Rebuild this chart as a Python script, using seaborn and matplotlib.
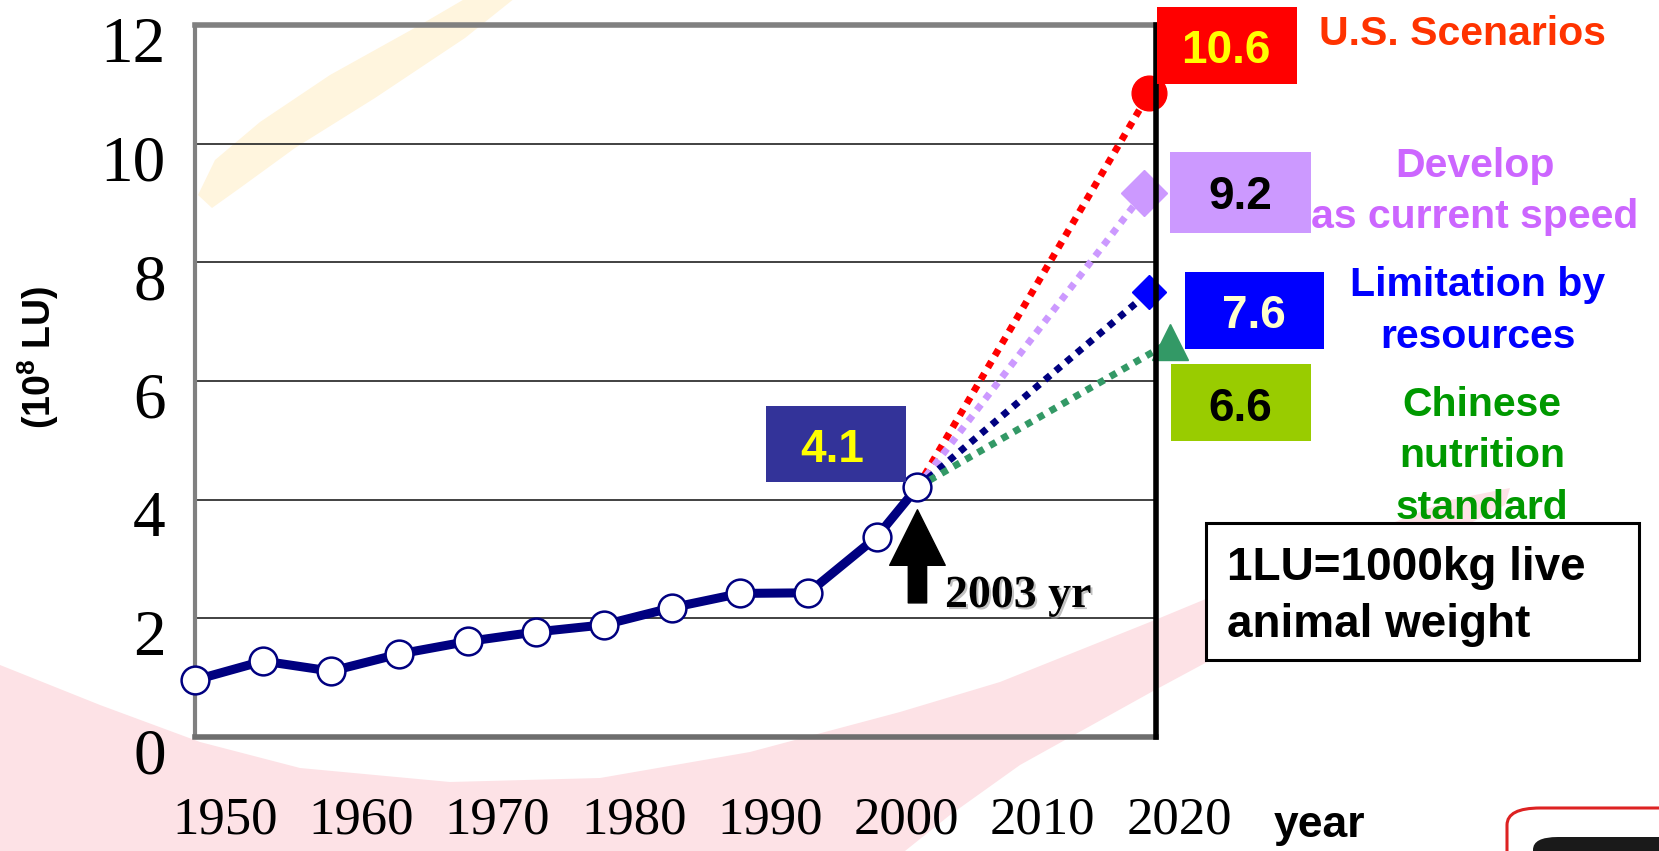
import matplotlib
matplotlib.use('Agg')
import matplotlib.pyplot as plt
import matplotlib.patches as mpatches
import matplotlib.patheffects as pe
from matplotlib.transforms import ScaledTranslation
import seaborn as sns
import pandas as pd

# livestock in China, 10^8 LU
years = [1950, 1955, 1960, 1965, 1970, 1975, 1980, 1985, 1990, 1995, 2000, 2003]
livestock = [0.96, 1.28, 1.11, 1.40, 1.61, 1.77, 1.89, 2.18, 2.42, 2.43, 3.37, 4.21]
current_label = '4.1'

# 2020 scenarios
scenario_names = ['U.S. Scenarios', 'Develop\nas current speed',
                  'Limitation by\nresources', 'Chinese\nnutrition\nstandard']
scenario_years = [2020, 2019.6, 2020, 2021.5]
scenario_values = [10.85, 9.17, 7.5, 6.65]
scenario_labels = ['10.6', '9.2', '7.6', '6.6']

decades = [1950, 1960, 1970, 1980, 1990, 2000, 2010, 2020]
yticks = [0, 2, 4, 6, 8, 10, 12]

# styles
line_col = ['#FF0000', '#CC99FF', '#000080', '#339966']
mark_col = ['#FF0000', '#CC99FF', '#0000FF', '#339966']
markers = ['o', 'D', 'D', '^']
msizes = [25, 23, 17, 26]
box_col = ['#FF0000', '#CC99FF', '#0000FF', '#99CC00']
num_col = ['#FFFF00', '#000000', '#FFFFCC', '#000000']
name_col = ['#FF3300', '#CC66FF', '#0000FF', '#009900']

W, H = 1659, 851

sns.set_style('white')
plt.rcParams['font.family'] = ['Liberation Sans', 'DejaVu Sans']
plt.rcParams['mathtext.fontset'] = 'custom'
plt.rcParams['mathtext.rm'] = 'Liberation Sans'
plt.rcParams['mathtext.bf'] = 'Liberation Sans:bold'

fig = plt.figure(figsize=(W / 100, H / 100), dpi=100)
fig.patch.set_facecolor('white')


def fx(x):
    return x / W


def fy(y):
    return 1 - y / H


def pts(lst):
    return [(fx(a), fy(b)) for a, b in lst]


# faint background swooshes
pink = [(0, 665), (100, 705), (200, 742), (300, 768), (450, 782), (600, 778),
        (750, 752), (900, 712), (1000, 682), (1155, 620), (1300, 560),
        (1450, 500), (1510, 488), (1505, 505), (1400, 560), (1300, 612),
        (1155, 690), (1020, 765), (950, 815), (905, 851), (0, 851)]
fig.add_artist(mpatches.Polygon(pts(pink), closed=True, transform=fig.transFigure,
                                fc='#FDE2E6', ec='none', zorder=-5))
yellow = [(198, 195), (215, 160), (260, 122), (330, 75), (420, 25), (480, -10),
          (525, -10), (465, 38), (375, 98), (295, 148), (240, 188), (212, 208)]
fig.add_artist(mpatches.Polygon(pts(yellow), closed=True, transform=fig.transFigure,
                                fc='#FFF5DE', ec='none', zorder=-5))

ax = fig.add_axes([fx(195), fy(737), (1156 - 195) / W, (737 - 25) / H])
ax.patch.set_alpha(0)

df = pd.DataFrame({'year': years, 'lu': livestock})
sns.lineplot(data=df, x='year', y='lu', ax=ax, color='#000080', lw=6.5,
             marker='o', ms=20, mfc='white', mec='#000080', mew=1.8,
             zorder=6, clip_on=False)

for i in range(len(scenario_values)):
    ax.plot([years[-1], scenario_years[i]], [livestock[-1], scenario_values[i]],
            color=line_col[i], lw=5, ls=(0, (1, 1)), zorder=4, clip_on=False)
    ax.plot([scenario_years[i]], [scenario_values[i]], marker=markers[i],
            ms=msizes[i], color=mark_col[i], mec=mark_col[i], ls='none',
            zorder=7, clip_on=False)

ax.set_xlim(1950, 2020.5)
ax.set_ylim(0, 12)
ax.set_xlabel('')
ax.set_ylabel('')
ax.set_xticks(decades)
ax.set_xticklabels([str(d) for d in decades])
ax.set_yticks(yticks)
ax.set_yticklabels([str(v) for v in yticks])
ax.tick_params(axis='x', direction='in', length=11, width=1, color='black',
               pad=43, labelsize=38, labelcolor='black',
               labelfontfamily='Liberation Serif')
ax.tick_params(axis='y', direction='in', length=14, width=1.5, color='black',
               pad=21, labelsize=47, labelcolor='black',
               labelfontfamily='Liberation Serif')
for lab in ax.get_xticklabels():
    lab.set_transform(lab.get_transform() + ScaledTranslation(0.30, 0, fig.dpi_scale_trans))
for lab in ax.get_yticklabels():
    lab.set_transform(lab.get_transform() + ScaledTranslation(0, -0.14, fig.dpi_scale_trans))

ax.grid(axis='y', color='#333333', lw=1.3)
ax.grid(axis='x', visible=False)
ax.set_axisbelow(True)
for side in ['left', 'top', 'bottom', 'right']:
    ax.spines[side].set_visible(True)
ax.spines['left'].set_color('#808080')
ax.spines['left'].set_linewidth(3)
ax.spines['top'].set_color('#808080')
ax.spines['top'].set_linewidth(4)
ax.spines['bottom'].set_color('#6e6e6e')
ax.spines['bottom'].set_linewidth(4)
ax.spines['right'].set_color('black')
ax.spines['right'].set_linewidth(4)
ax.spines['right'].set_zorder(10)

# arrow at 2003
ax.annotate('', xy=(2003, 3.83), xytext=(2003, 2.26),
            arrowprops=dict(arrowstyle='simple,head_length=1.0,head_width=1.0,tail_width=0.33',
                            fc='black', ec='black', mutation_scale=40,
                            shrinkA=0, shrinkB=0), zorder=8)
fig.text(fx(945), fy(607), '2003 yr', family='Liberation Serif', fontweight='bold',
         fontsize=33, color='black', ha='left', va='baseline',
         path_effects=[pe.SimplePatchShadow(offset=(1.5, -1.5), shadow_rgbFace='#999999', alpha=0.6),
                       pe.Normal()])

# value boxes
boxes = [(1157, 7, 1297, 84), (1170, 152, 1311, 233), (1185, 272, 1324, 349),
         (1171, 364, 1311, 441)]
num_pos = [(1226, 63), (1240, 209), (1254, 328), (1240, 421)]
for i, (x0, y0, x1, y1) in enumerate(boxes):
    fig.add_artist(mpatches.Rectangle((fx(x0), fy(y1)), (x1 - x0) / W, (y1 - y0) / H,
                                      transform=fig.transFigure, fc=box_col[i],
                                      ec='none', zorder=3))
    fig.text(fx(num_pos[i][0]), fy(num_pos[i][1]), scenario_labels[i], ha='center',
             va='baseline', fontsize=33, fontweight='bold', color=num_col[i], zorder=4)

fig.add_artist(mpatches.Rectangle((fx(766), fy(482)), 140 / W, 76 / H,
                                  transform=fig.transFigure, fc='#333399',
                                  ec='none', zorder=3))
fig.text(fx(832), fy(462), current_label, ha='center', va='baseline', fontsize=33,
         fontweight='bold', color='#FFFF00', zorder=4)

# scenario names
name_pos = [(1462, 45), (1475, 177), (1478, 296), (1482, 416)]
for i, name in enumerate(scenario_names):
    for k, line in enumerate(name.split('\n')):
        fig.text(fx(name_pos[i][0]), fy(name_pos[i][1] + 51.5 * k), line,
                 ha='center', va='baseline', fontsize=29.5, fontweight='bold',
                 color=name_col[i], zorder=4)

# note box
fig.add_artist(mpatches.Rectangle((fx(1206), fy(660)), 433 / W, 137 / H,
                                  transform=fig.transFigure, fc='white',
                                  ec='black', lw=2.2, zorder=3))
fig.text(fx(1227), fy(580), '1LU=1000kg live', ha='left', va='baseline',
         fontsize=33, fontweight='bold', color='black', zorder=4)
fig.text(fx(1227), fy(637), 'animal weight', ha='left', va='baseline',
         fontsize=33, fontweight='bold', color='black', zorder=4)

# axis titles
fig.text(fx(1319), fy(837), 'year', ha='center', va='baseline', fontsize=32,
         fontweight='bold', color='black')
fig.text(fx(38), fy(357), r'(10$^{\mathbf{8}}$ LU)', rotation=90, ha='center',
         va='center', fontsize=27, fontweight='bold', color='black')

# cut-off button at bottom right
fig.add_artist(mpatches.FancyBboxPatch((fx(1507), fy(900)), 250 / W, 92 / H,
                                       boxstyle='round,pad=0,rounding_size=0.02',
                                       transform=fig.transFigure, fc='white',
                                       ec='#DD2222', lw=2.2, zorder=2))
fig.add_artist(mpatches.FancyBboxPatch((fx(1533), fy(900)), 220 / W, 63 / H,
                                       boxstyle='round,pad=0,rounding_size=0.015',
                                       transform=fig.transFigure, fc='#1a1a1a',
                                       ec='none', zorder=2))

fig.savefig('out.png', dpi=100)
